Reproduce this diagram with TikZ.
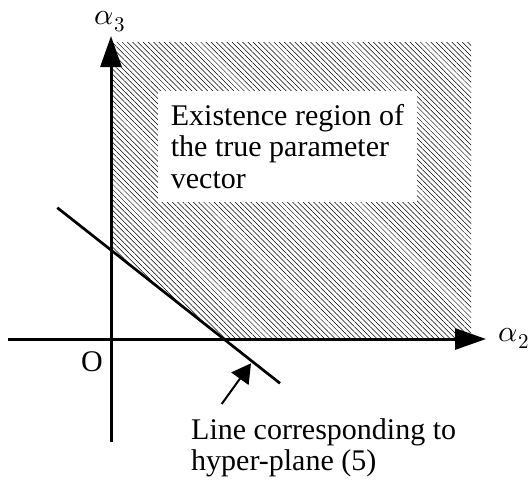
\documentclass[tikz,border=0pt]{standalone}
\usepackage{fontspec}
\usepackage{unicode-math}
\setmainfont{Liberation Serif}
\setmathfont{Latin Modern Math}
\usetikzlibrary{arrows.meta,patterns.meta}

\tikzset{
  axis/.style={line width=3pt,-{Triangle[length=31pt,width=21pt]}},
  big/.style={font=\fontsize{30}{31.7}\selectfont},
  regionbox/.style={big,fill=white,align=left,inner sep=0pt,minimum width=259pt,minimum height=111pt}
}

\begin{document}
\begin{tikzpicture}[x=1pt,y=-1pt]

\useasboundingbox (0,0) rectangle (529,485);

\coordinate (O) at (111,339);
\coordinate (ytop) at (111,36);
\coordinate (ybot) at (111,442);
\coordinate (xleft) at (8,339);
\coordinate (xtip) at (486,339);

% hatched region
\fill[pattern={Lines[angle=-45,distance=3.7pt,line width=0.5pt]}]
  (111,250)--(111,42)--(471,42)--(471,339)--(223.8,339)--cycle;

\node[regionbox] (region) at (287.5,146.5) {Existence region of\\the true parameter\\vector};

\draw[axis] (ybot)--(ytop);
\draw[axis] (xleft)--(xtip);

\node[big,anchor=base] (a3) at (110,24) {$\alpha_3$};
\node[big,anchor=base] (a2) at (514,341) {$\alpha_2$};
\node[big,anchor=base] (orig) at (92,371) {O};

% hyper-plane (5)
\coordinate (la) at (57.3,207.7);
\coordinate (lb) at (280,383.3);
\draw[line width=2.7pt] (la)--(lb);

\coordinate (ptail) at (221.7,404);
\coordinate (ptip) at (251,363.3);
\draw[line width=2pt,-{Triangle[length=19pt,width=21pt]}] (ptail)--(ptip);

\node[big,anchor=north west,align=left,inner sep=0pt] (linelabel) at (191,418) {Line corresponding to\\hyper-plane (5)};

\end{tikzpicture}
\end{document}
